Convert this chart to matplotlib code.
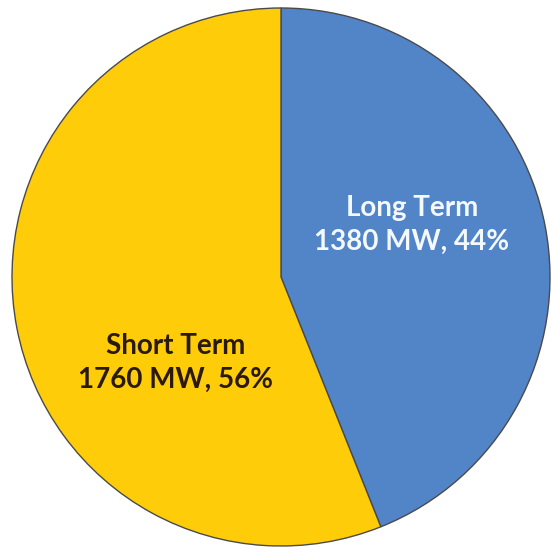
import matplotlib.pyplot as plt

labels = ["Long Term", "Short Term"]
values_mw = [1380, 1760]
colors = ["#5284C8", "#FFCC0A"]

total = sum(values_mw)
pct = [round(100 * v / total) for v in values_mw]

fig = plt.figure(figsize=(5.54, 5.54), dpi=100)
ax = fig.add_axes([0, 0, 1, 1])

ax.pie(values_mw, colors=colors, startangle=90, counterclock=False,
       center=(281, 277), radius=269, frame=True,
       wedgeprops=dict(edgecolor="#4a4a4a", linewidth=1.0))
ax.set_xlim(0, 554)
ax.set_ylim(0, 554)
ax.set_aspect("equal")
ax.axis("off")

# label positions (pixel coords, y from bottom)
pos = [(412, 329), (176, 191)]
text_colors = ["#f4f8ff", "#2a1a0a"]
for lab, v, p, (x, y), tc in zip(labels, values_mw, pct, pos, text_colors):
    ax.text(x, y, f"{lab}\n{v} MW, {p}%", ha="center", va="center",
            fontsize=20, fontweight="bold", family=["Lato", "DejaVu Sans"],
            color=tc, linespacing=1.4)

fig.savefig("out.png", dpi=100)
